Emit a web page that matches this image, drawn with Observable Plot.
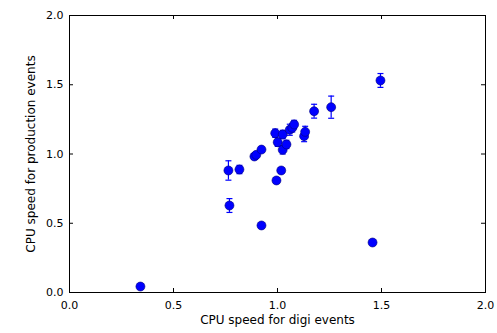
<!DOCTYPE html>
<html><head><meta charset="utf-8">
<script src="https://cdn.jsdelivr.net/npm/d3@7"></script>
<script src="https://cdn.jsdelivr.net/npm/@observablehq/plot@0.6"></script>
<style>body{margin:0;background:#fff;} svg{display:block;}</style>
</head><body><div id="chart"></div>
<script>
const digiSpeed = [0.341,0.764,0.769,0.817,0.889,0.898,0.923,0.923,0.989,0.995,1.001,1.018,1.025,1.025,1.043,1.059,1.071,1.080,1.128,1.133,1.176,1.258,1.457,1.495];
const prodSpeed = [0.043,0.881,0.628,0.888,0.982,0.994,1.032,0.484,1.150,0.809,1.085,0.881,1.141,1.030,1.069,1.175,1.189,1.213,1.129,1.160,1.309,1.338,0.361,1.531];
const prodErr   = [0.015,0.07,0.05,0.03,0.02,0.02,0.02,0.015,0.03,0.02,0.03,0.02,0.03,0.03,0.03,0.04,0.03,0.03,0.04,0.04,0.05,0.08,0.015,0.05];
const tickValues = [0, 0.5, 1.0, 1.5, 2.0];
const xLabel = "CPU speed for digi events";
const yLabel = "CPU speed for production events";

const data = digiSpeed.map((x, i) => ({x, y: prodSpeed[i], e: prodErr[i]}));
const W = 497, H = 333, mL = 69, mR = 12, mT = 15, mB = 41;
const pw = W - mL - mR, ph = H - mT - mB;
const cap = {draw(ctx){ ctx.moveTo(-3, 0); ctx.lineTo(3, 0); }};
const blue = "#0000ff";

const chart = Plot.plot({
  width: W, height: H,
  marginLeft: mL, marginRight: mR, marginTop: mT, marginBottom: mB,
  style: {fontFamily: "DejaVu Sans", fontSize: "11px", color: "#000", background: "#fff"},
  x: {domain: [0, 2]},
  y: {domain: [0, 2]},
  marks: [
    Plot.axisX({ticks: tickValues, tickFormat: ".1f", tickSize: 0, tickPadding: 9, label: null, fontSize: 11}),
    Plot.axisY({ticks: tickValues, tickFormat: ".1f", tickSize: 0, tickPadding: 6, label: null, fontSize: 11}),
    Plot.tickX(tickValues, {x: d => d, insetTop: ph - 4, stroke: "#000"}),
    Plot.tickX(tickValues, {x: d => d, insetBottom: ph - 4, stroke: "#000"}),
    Plot.tickY(tickValues, {y: d => d, insetRight: pw - 4, stroke: "#000"}),
    Plot.tickY(tickValues, {y: d => d, insetLeft: pw - 4, stroke: "#000"}),
    Plot.ruleX(data, {x: "x", y1: d => d.y - d.e, y2: d => d.y + d.e, stroke: blue, strokeWidth: 1.2}),
    Plot.dot(data, {x: "x", y: d => d.y + d.e, symbol: cap, stroke: blue, strokeWidth: 1.2, r: 3}),
    Plot.dot(data, {x: "x", y: d => d.y - d.e, symbol: cap, stroke: blue, strokeWidth: 1.2, r: 3}),
    Plot.dot(data, {x: "x", y: "y", r: 4.5, fill: blue, stroke: "#00007a", strokeWidth: 0.6}),
    Plot.frame({stroke: "#000", strokeWidth: 1}),
    Plot.text([xLabel], {frameAnchor: "bottom", dy: 31, fontSize: 12, fill: "#000"}),
    Plot.text([yLabel], {frameAnchor: "left", textAnchor: "middle", rotate: -90, dx: -38, fontSize: 12, fill: "#000"})
  ]
});
document.getElementById("chart").append(chart);
</script>
</body></html>
